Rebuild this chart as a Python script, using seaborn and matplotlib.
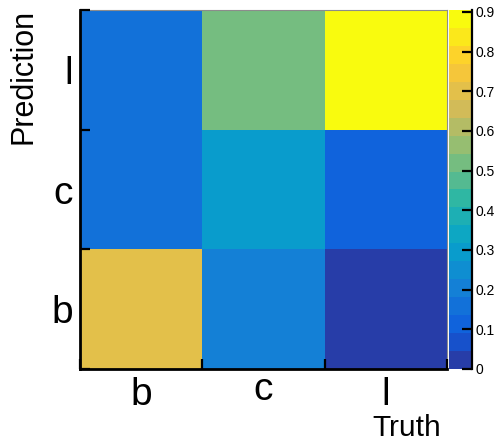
import numpy as np
import pandas as pd
import matplotlib
matplotlib.use("Agg")
import matplotlib.pyplot as plt
import matplotlib.transforms as mtransforms
from matplotlib.colors import LinearSegmentedColormap, ListedColormap
from matplotlib.ticker import FuncFormatter
import seaborn as sns

# ---- data ----
truth = ["b", "c", "l"]
prediction = ["l", "c", "b"]          # rows from top to bottom
pred_l = [0.15, 0.52, 0.904]
pred_c = [0.15, 0.29, 0.10]
pred_b = [0.70, 0.19, 0.01]
cbar_ticks = [0.0, 0.1, 0.2, 0.3, 0.4, 0.5, 0.6, 0.7, 0.8, 0.9]
z_max = 0.905
n_levels = 20

# ---- ROOT kBird palette ----
bird_stops = [0.0, 0.125, 0.25, 0.375, 0.5, 0.625, 0.75, 0.875, 1.0]
bird_r = [0.2082, 0.0592, 0.0780, 0.0232, 0.1802, 0.5301, 0.8186, 0.9956, 0.9764]
bird_g = [0.1664, 0.3599, 0.5041, 0.6419, 0.7178, 0.7492, 0.7328, 0.7862, 0.9832]
bird_b = [0.5293, 0.8684, 0.8385, 0.7914, 0.6425, 0.4662, 0.3499, 0.1968, 0.0539]
bird = LinearSegmentedColormap.from_list(
    "bird", list(zip(bird_stops, zip(bird_r, bird_g, bird_b))))
band_t = [int((i + 0.99) * 255 / n_levels) / 254 for i in range(n_levels)]
cmap = ListedColormap([bird(t) for t in band_t])

sns.set_theme(style="white")
plt.rcParams["font.family"] = ["Liberation Sans", "DejaVu Sans"]
plt.rcParams["text.color"] = "black"
plt.rcParams["axes.labelcolor"] = "black"
plt.rcParams["xtick.color"] = "black"
plt.rcParams["ytick.color"] = "black"
plt.rcParams["axes.axisbelow"] = False

W, H = 495, 444
fig = plt.figure(figsize=(W / 100, H / 100), dpi=100)
ax = fig.add_axes([80 / W, 1 - 369 / H, (447 - 80) / W, (369 - 10) / H])
cax = fig.add_axes([449 / W, 1 - 369 / H, (472 - 449) / W, (369 - 10) / H])

df = pd.DataFrame([pred_l, pred_c, pred_b], index=prediction, columns=truth)
sns.heatmap(df, ax=ax, cbar_ax=cax, cmap=cmap, vmin=0, vmax=z_max,
            cbar_kws={"ticks": cbar_ticks})
ax.set_axisbelow(False)
cax.set_axisbelow(False)

# main axes ticks: marks at bin edges, labels at bin centres
ax.set_xticks(np.arange(len(truth) + 1))
ax.set_xticklabels([])
ax.set_xticks(np.arange(len(truth)) + 0.5, minor=True)
ax.set_xticklabels(truth, minor=True)
ax.set_yticks(np.arange(len(prediction) + 1))
ax.set_yticklabels([])
ax.set_yticks(np.arange(len(prediction)) + 0.5, minor=True)
ax.set_yticklabels(prediction, minor=True, rotation=0)

ax.tick_params(which="major", direction="in", length=7.5, width=1.6,
               color="black", bottom=True, left=True)
ax.tick_params(which="minor", length=0, labelsize=28, labelcolor="black")
ax.tick_params(axis="x", which="minor", pad=5.5)
ax.tick_params(axis="y", which="minor", pad=5)

for side in ["left", "bottom"]:
    ax.spines[side].set_visible(True)
    ax.spines[side].set_color("black")
    ax.spines[side].set_linewidth(2)
for side in ["top", "right"]:
    ax.spines[side].set_visible(True)
    ax.spines[side].set_color("#8c8c8c")
    ax.spines[side].set_linewidth(0.8)

# ROOT top-aligns the x labels by their ink: lift the short "c"
for lab in ax.get_xticklabels(minor=True):
    if lab.get_text() == "c":
        lab.set_transform(lab.get_transform() +
                          mtransforms.ScaledTranslation(0, 5 / 100, fig.dpi_scale_trans))

# colour bar
cbar = ax.collections[0].colorbar
cbar.outline.set_visible(False)
cax.spines["right"].set_visible(True)
cax.spines["right"].set_color("black")
cax.spines["right"].set_linewidth(1.6)
cax.yaxis.set_major_formatter(FuncFormatter(lambda v, _: "%g" % round(v, 2)))
cax.tick_params(direction="in", length=7, width=1.6, color="black",
                labelcolor="black", labelsize=10, pad=2.5, right=True)

fig.text(8 / W, 1 - 9 / H, "Prediction", rotation=90, ha="left", va="top",
         fontsize=22, color="black")
fig.text(441 / W, 1 - 414 / H, "Truth", ha="right", va="top", fontsize=21.5,
         color="black")

fig.savefig("out.png", dpi=100)
